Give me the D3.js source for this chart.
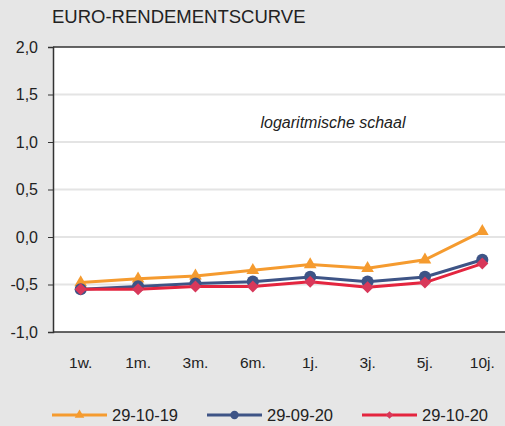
<!DOCTYPE html>
<html>
<head>
<meta charset="utf-8">
<script src="https://cdn.jsdelivr.net/npm/d3@7"></script>
<style>
  html, body { margin: 0; padding: 0; background: #e6e6e6; }
  svg { display: block; font-family: "Liberation Sans", Arial, sans-serif; }
</style>
</head>
<body>
<div id="chart"></div>
<script>
const maturities = ["1w.", "1m.", "3m.", "6m.", "1j.", "3j.", "5j.", "10j."];
const seriesNames = ["29-10-19", "29-09-20", "29-10-20"];
const yield291019 = [-0.48, -0.44, -0.41, -0.35, -0.29, -0.33, -0.24, 0.06];
const yield290920 = [-0.55, -0.52, -0.49, -0.47, -0.42, -0.47, -0.42, -0.24];
const yield291020 = [-0.55, -0.55, -0.52, -0.52, -0.47, -0.53, -0.48, -0.28];
const yTicks = [-1.0, -0.5, 0.0, 0.5, 1.0, 1.5, 2.0];

const width = 505;
const height = 426;

const margin = { top: 47, right: -6, bottom: 94, left: 53 };

const svg = d3.select("#chart")
  .append("svg")
  .attr("width", width)
  .attr("height", height);

svg.append("rect")
  .attr("width", width)
  .attr("height", height)
  .attr("fill", "#e6e6e6");

const xScale = d3.scalePoint()
  .domain(maturities)
  .range([margin.left - 1, width - margin.right])
  .padding(0.5);

const yScale = d3.scaleLinear()
  .domain([-1, 2])
  .range([height - margin.bottom, margin.top]);

// plot area
svg.append("rect")
  .attr("x", margin.left)
  .attr("y", margin.top)
  .attr("width", width - margin.left)
  .attr("height", yScale(-1) - yScale(2))
  .attr("fill", "#ffffff");

// gridlines
svg.selectAll(".grid")
  .data(yTicks.filter(d => d > -1 && d < 2))
  .enter()
  .append("line")
  .attr("x1", margin.left)
  .attr("x2", width)
  .attr("y1", d => yScale(d))
  .attr("y2", d => yScale(d))
  .attr("stroke", "#e4e4e4")
  .attr("stroke-width", 2);

// top and bottom frame
[2, -1].forEach(function(v) {
  svg.append("line")
    .attr("x1", margin.left)
    .attr("x2", width)
    .attr("y1", yScale(v))
    .attr("y2", yScale(v))
    .attr("stroke", "#333")
    .attr("stroke-width", 1.5);
});

// y axis
const yAxis = svg.append("g")
  .attr("transform", `translate(${margin.left}, 0)`)
  .call(d3.axisLeft(yScale)
    .tickValues(yTicks)
    .tickSize(5)
    .tickPadding(10)
    .tickFormat(d => d3.format(".1f")(d).replace(".", ",").replace("−", "-")));

yAxis.select(".domain").attr("stroke", "#333").attr("stroke-width", 1.5);
yAxis.selectAll(".tick line").attr("stroke", "#333");
yAxis.selectAll(".tick text")
  .attr("fill", "#222")
  .style("font-size", "16px")
  .style("font-family", "Liberation Sans, Arial, sans-serif");

// x labels
svg.selectAll(".xlabel")
  .data(maturities)
  .enter()
  .append("text")
  .attr("x", d => xScale(d))
  .attr("y", 368)
  .attr("text-anchor", "middle")
  .attr("fill", "#222")
  .style("font-size", "15.5px")
  .text(d => d);

// title
svg.append("text")
  .attr("x", 52)
  .attr("y", 23)
  .attr("fill", "#222")
  .style("font-size", "18.5px")
  .text("EURO-RENDEMENTSCURVE");

svg.append("text")
  .attr("x", 333)
  .attr("y", 128)
  .attr("text-anchor", "middle")
  .attr("fill", "#222")
  .style("font-size", "16px")
  .style("font-style", "italic")
  .text("logaritmische schaal");

// marker drawing: triangle, circle, square turned 45 degrees
const markerPath = {
  triangle: s => d3.symbol().type(d3.symbolTriangle).size(s)(),
  circle: s => d3.symbol().type(d3.symbolCircle).size(s)(),
  diamond: s => d3.symbol().type(d3.symbolSquare).size(s)()
};
const markerRotate = { triangle: 0, circle: 0, diamond: 45 };

const series = [
  { name: seriesNames[0], values: yield291019, color: "#f59b2f", marker: "#f59b2f", shape: "triangle", size: 70, legendSize: 40 },
  { name: seriesNames[1], values: yield290920, color: "#3e5486", marker: "#3e5486", shape: "circle", size: 115, legendSize: 55 },
  { name: seriesNames[2], values: yield291020, color: "#e4253f", marker: "#d8385a", shape: "diamond", size: 72, legendSize: 30 }
];

const line = d3.line()
  .x((d, i) => xScale(maturities[i]))
  .y(d => yScale(d));

series.forEach(function(s) {
  svg.append("path")
    .datum(s.values)
    .attr("fill", "none")
    .attr("stroke", s.color)
    .attr("stroke-width", 3)
    .attr("d", line);

  svg.selectAll(null)
    .data(s.values)
    .enter()
    .append("path")
    .attr("transform", (d, i) => `translate(${xScale(maturities[i])}, ${yScale(d)}) rotate(${markerRotate[s.shape]})`)
    .attr("d", markerPath[s.shape](s.size))
    .attr("fill", s.marker);
});

// legend
const legendX = [52, 207, 362];
series.forEach(function(s, i) {
  const x0 = legendX[i];
  svg.append("line")
    .attr("x1", x0)
    .attr("x2", x0 + 55)
    .attr("y1", 415)
    .attr("y2", 415)
    .attr("stroke", s.color)
    .attr("stroke-width", 3);

  svg.append("path")
    .attr("transform", `translate(${x0 + 27.5}, 415) rotate(${markerRotate[s.shape]})`)
    .attr("d", markerPath[s.shape](s.legendSize))
    .attr("fill", s.marker);

  svg.append("text")
    .attr("x", x0 + 60)
    .attr("y", 421)
    .attr("fill", "#222")
    .style("font-size", "16.5px")
    .text(s.name);
});
</script>
</body>
</html>
